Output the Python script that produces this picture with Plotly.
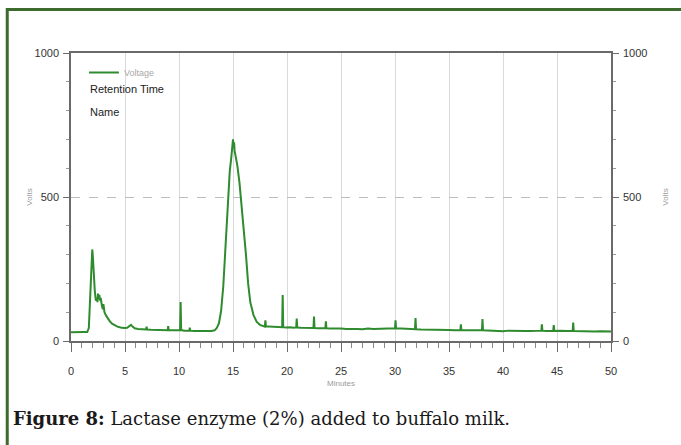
import plotly.graph_objects as go

# ---- data ----
minutes = [
    0.0, 0.4, 0.8, 1.2, 1.5, 1.65, 1.75, 1.85, 1.92, 1.97, 2.03, 2.1, 2.2, 2.3, 2.4, 2.45, 2.5, 2.55, 2.62, 2.7,
    2.75, 2.85, 2.95, 3.0, 3.1, 3.25, 3.4, 3.6, 3.8, 4.0, 4.3, 4.6, 4.9, 5.2, 5.4, 5.55, 5.7, 5.9, 6.2, 6.5,
    6.8, 6.95, 7.0, 7.05, 7.4, 7.8, 8.2, 8.6, 8.95, 9.0, 9.05, 9.4, 9.8, 10.1, 10.15, 10.2, 10.5, 10.95, 11.0, 11.05,
    11.4, 11.8, 12.2, 12.6, 13.0, 13.3, 13.5, 13.7, 13.9, 14.1, 14.3, 14.5, 14.7, 14.85, 14.95, 15.0, 15.05, 15.1, 15.15, 15.25,
    15.4, 15.6, 15.8, 16.0, 16.2, 16.4, 16.6, 16.9, 17.2, 17.5, 17.8, 17.95, 18.0, 18.05, 18.3, 18.6, 18.9, 19.2, 19.55, 19.6,
    19.65, 19.9, 20.3, 20.6, 20.85, 20.9, 20.95, 21.3, 21.7, 22.1, 22.45, 22.5, 22.55, 22.9, 23.3, 23.55, 23.6, 23.65, 24.0, 24.5,
    25.0, 25.5, 26.0, 26.5, 27.0, 27.5, 28.0, 28.5, 29.0, 29.5, 30.0, 30.05, 30.1, 30.6, 31.0, 31.5, 31.85, 31.9, 31.95, 32.4,
    33.0, 33.5, 34.0, 34.5, 35.0, 35.5, 36.05, 36.1, 36.15, 36.6, 37.0, 37.5, 38.05, 38.1, 38.15, 38.6, 39.0, 39.5, 40.0, 40.5,
    41.0, 41.5, 42.0, 42.5, 43.0, 43.55, 43.6, 43.65, 44.0, 44.65, 44.7, 44.75, 45.2, 45.7, 46.0, 46.45, 46.5, 46.55, 47.0, 47.5,
    48.0, 48.5, 49.0, 49.5, 50.0,
]
volts = [
    30, 31, 30, 31, 31, 45, 130, 250, 305, 318, 290, 230, 175, 140, 150, 135, 165, 145, 160, 140,
    150, 125, 110, 128, 100, 88, 78, 68, 60, 55, 50, 47, 45, 46, 52, 56, 50, 44, 42, 41,
    40, 40, 50, 40, 39, 38, 38, 37, 37, 52, 38, 37, 36, 37, 135, 38, 36, 36, 46, 36,
    35, 35, 35, 34, 35, 37, 45, 62, 105, 190, 320, 470, 590, 640, 680, 700, 670, 690, 660, 640,
    610, 550, 470, 370, 300, 200, 135, 90, 66, 56, 51, 50, 72, 50, 50, 49, 48, 49, 48, 160,
    48, 47, 48, 46, 47, 78, 47, 46, 45, 46, 45, 85, 45, 44, 44, 44, 68, 44, 43, 44,
    43, 42, 43, 42, 41, 43, 42, 43, 44, 43, 44, 72, 44, 43, 42, 41, 41, 80, 41, 40,
    40, 39, 39, 38, 38, 37, 38, 58, 38, 37, 38, 37, 37, 76, 37, 36, 37, 36, 34, 36,
    35, 36, 35, 35, 36, 36, 58, 36, 35, 35, 55, 35, 36, 34, 35, 35, 64, 35, 34, 35,
    34, 33, 34, 33, 33,
]
x_ticks = [0, 5, 10, 15, 20, 25, 30, 35, 40, 45, 50]
y_ticks = [0, 500, 1000]
series_name = "Voltage"
caption = "<b>Figure 8:</b> Lactase enzyme (2%) added to buffalo milk."

# ---- figure ----
W, H = 681, 445
L, R, T, B = 71, 68, 53, 104
pw, ph = W - L - R, H - T - B

def px_x(p):
    return (p - L) / pw

def px_y(p):
    return 1 - (p - T) / ph

sans = "Liberation Sans Narrow, Arial Narrow, Liberation Sans, Arial"
tick_font = dict(family=sans, size=11, color="#333333")
small_font = dict(family=sans, size=8, color="#9a9a9a")

fig = go.Figure()
fig.add_trace(go.Scatter(x=minutes, y=volts, mode="lines", name=series_name,
                         line=dict(color="#2e8b2e", width=2), showlegend=True))
fig.add_trace(go.Scatter(x=minutes, y=volts, mode="none", yaxis="y2",
                         showlegend=False, hoverinfo="skip"))

axis_line = "#6a6a6a"
fig.update_layout(
    width=W, height=H,
    margin=dict(l=L, r=R, t=T, b=B, pad=0),
    paper_bgcolor="white", plot_bgcolor="white",
    xaxis=dict(range=[0, 50], tickvals=x_ticks, ticks="outside", ticklen=9, tickcolor=axis_line,
               tickfont=tick_font, showline=True, linecolor=axis_line, linewidth=1.5, mirror=True,
               showgrid=True, gridcolor="#d9d9d9", gridwidth=1, zeroline=False,
               minor=dict(dtick=1, tick0=0, ticks="outside", ticklen=5, tickcolor="#888888", showgrid=False),
               ticklabelstandoff=10,
               title=dict(text="Minutes", font=small_font, standoff=4)),
    yaxis=dict(range=[0, 1000], tickvals=y_ticks, ticks="outside", ticklen=6, tickcolor=axis_line,
               tickfont=tick_font, showline=True, linecolor=axis_line, linewidth=1.5,
               showgrid=True, gridcolor="#bdbdbd", griddash="dash", gridwidth=1, zeroline=False,
               minor=dict(dtick=100, tick0=0, ticks="outside", ticklen=3, tickcolor="#999999", showgrid=False),
               ticklabelstandoff=2,
               title=dict(text="Volts", font=small_font, standoff=1)),
    yaxis2=dict(range=[0, 1000], tickvals=y_ticks, overlaying="y", side="right", ticks="outside",
                ticklen=6, tickcolor=axis_line, tickfont=tick_font, showline=True, linecolor=axis_line,
                linewidth=1.5, showgrid=False, zeroline=False,
                minor=dict(dtick=100, tick0=0, ticks="outside", ticklen=3, tickcolor="#999999", showgrid=False),
                ticklabelstandoff=2,
                title=dict(text="Volts", font=small_font, standoff=16)),
    legend=dict(x=px_x(84), y=px_y(58), xanchor="left", yanchor="top", bgcolor="rgba(0,0,0,0)",
                font=dict(family=sans, size=9, color="#a8a8a8"),
                itemwidth=30, tracegroupgap=0),
    showlegend=True,
)

label_font = dict(family=sans, size=11, color="#222222")
fig.add_annotation(text="Retention Time", xref="paper", yref="paper", x=px_x(88), y=px_y(89),
                   xanchor="left", yanchor="middle", showarrow=False, font=label_font)
fig.add_annotation(text="Name", xref="paper", yref="paper", x=px_x(88), y=px_y(112),
                   xanchor="left", yanchor="middle", showarrow=False, font=label_font)
fig.add_annotation(text=caption, xref="paper", yref="paper", x=px_x(11), y=px_y(418),
                   xanchor="left", yanchor="middle", showarrow=False,
                   font=dict(family="DejaVu Serif, Liberation Serif, serif", size=18, color="#1a1a1a"))

# green page frame (top and left edges visible)
fig.add_shape(type="rect", xref="paper", yref="paper",
              x0=px_x(7), x1=px_x(700), y0=px_y(470), y1=px_y(9.5),
              line=dict(color="#3d6b2e", width=3), fillcolor="rgba(0,0,0,0)", layer="above")

fig.write_html("out.html")
